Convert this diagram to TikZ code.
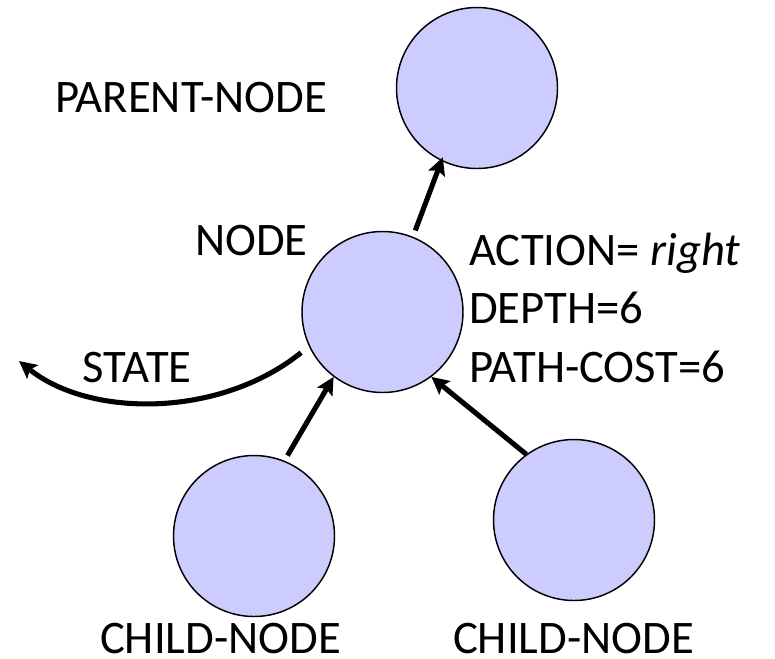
\documentclass[tikz,border=0pt]{standalone}
\usepackage{fontspec}
\setmainfont{Carlito}
\usetikzlibrary{arrows.meta}
\definecolor{nodefill}{RGB}{204,204,255}
\begin{document}
\begin{tikzpicture}[
  x=0.75pt, y=-0.75pt,
  treenode/.style={circle, draw=black, line width=1.1pt, fill=nodefill,
                   minimum size=120.75pt, inner sep=0pt},
  lbl/.style={inner sep=0pt, font=\fontsize{35}{42}\selectfont},
  arr/.style={line width=3.8pt, -{Stealth[length=13pt, width=13pt, inset=2.5pt]}}
]
\useasboundingbox (0,0) rectangle (775,658);

% tree nodes
\node[treenode] (top) at (477,88)  {};
\node[treenode] (mid) at (382.5,312) {};
\node[treenode] (cl)  at (254,536) {};
\node[treenode] (cr)  at (574,520) {};

% labels
\node[lbl, anchor=base] (parentlbl) at (191,112) {PARENT-NODE};
\node[lbl, anchor=base] (nodelbl)   at (251.5,255) {NODE};
\node[lbl, anchor=base] (statelbl)  at (137,382) {STATE};
\node[lbl, anchor=base west] (actionlbl) at (469,265) {ACTION= \textit{right}};
\node[lbl, anchor=base west] (depthlbl)  at (469,323) {DEPTH=6};
\node[lbl, anchor=base west] (costlbl)   at (469,382) {PATH-COST=6};
\node[lbl, anchor=base] (childlbla) at (220.5,653) {CHILD-NODE};
\node[lbl, anchor=base] (childlblb) at (573.5,653) {CHILD-NODE};

% parent pointer and child links
\draw[arr, shorten <=5pt, shorten >=-3pt] (mid.68) -- (top.244);
\draw[arr, shorten <=4.5pt] (cl.68) -- (mid.233);
\draw[arr] (cr.126) -- (mid.307);

% state pointer
\coordinate (stateend) at (19,361);
\draw[arr, shorten <=7.5pt] (mid.205) .. controls (220,418) and (90,418) .. (stateend);
\end{tikzpicture}
\end{document}
